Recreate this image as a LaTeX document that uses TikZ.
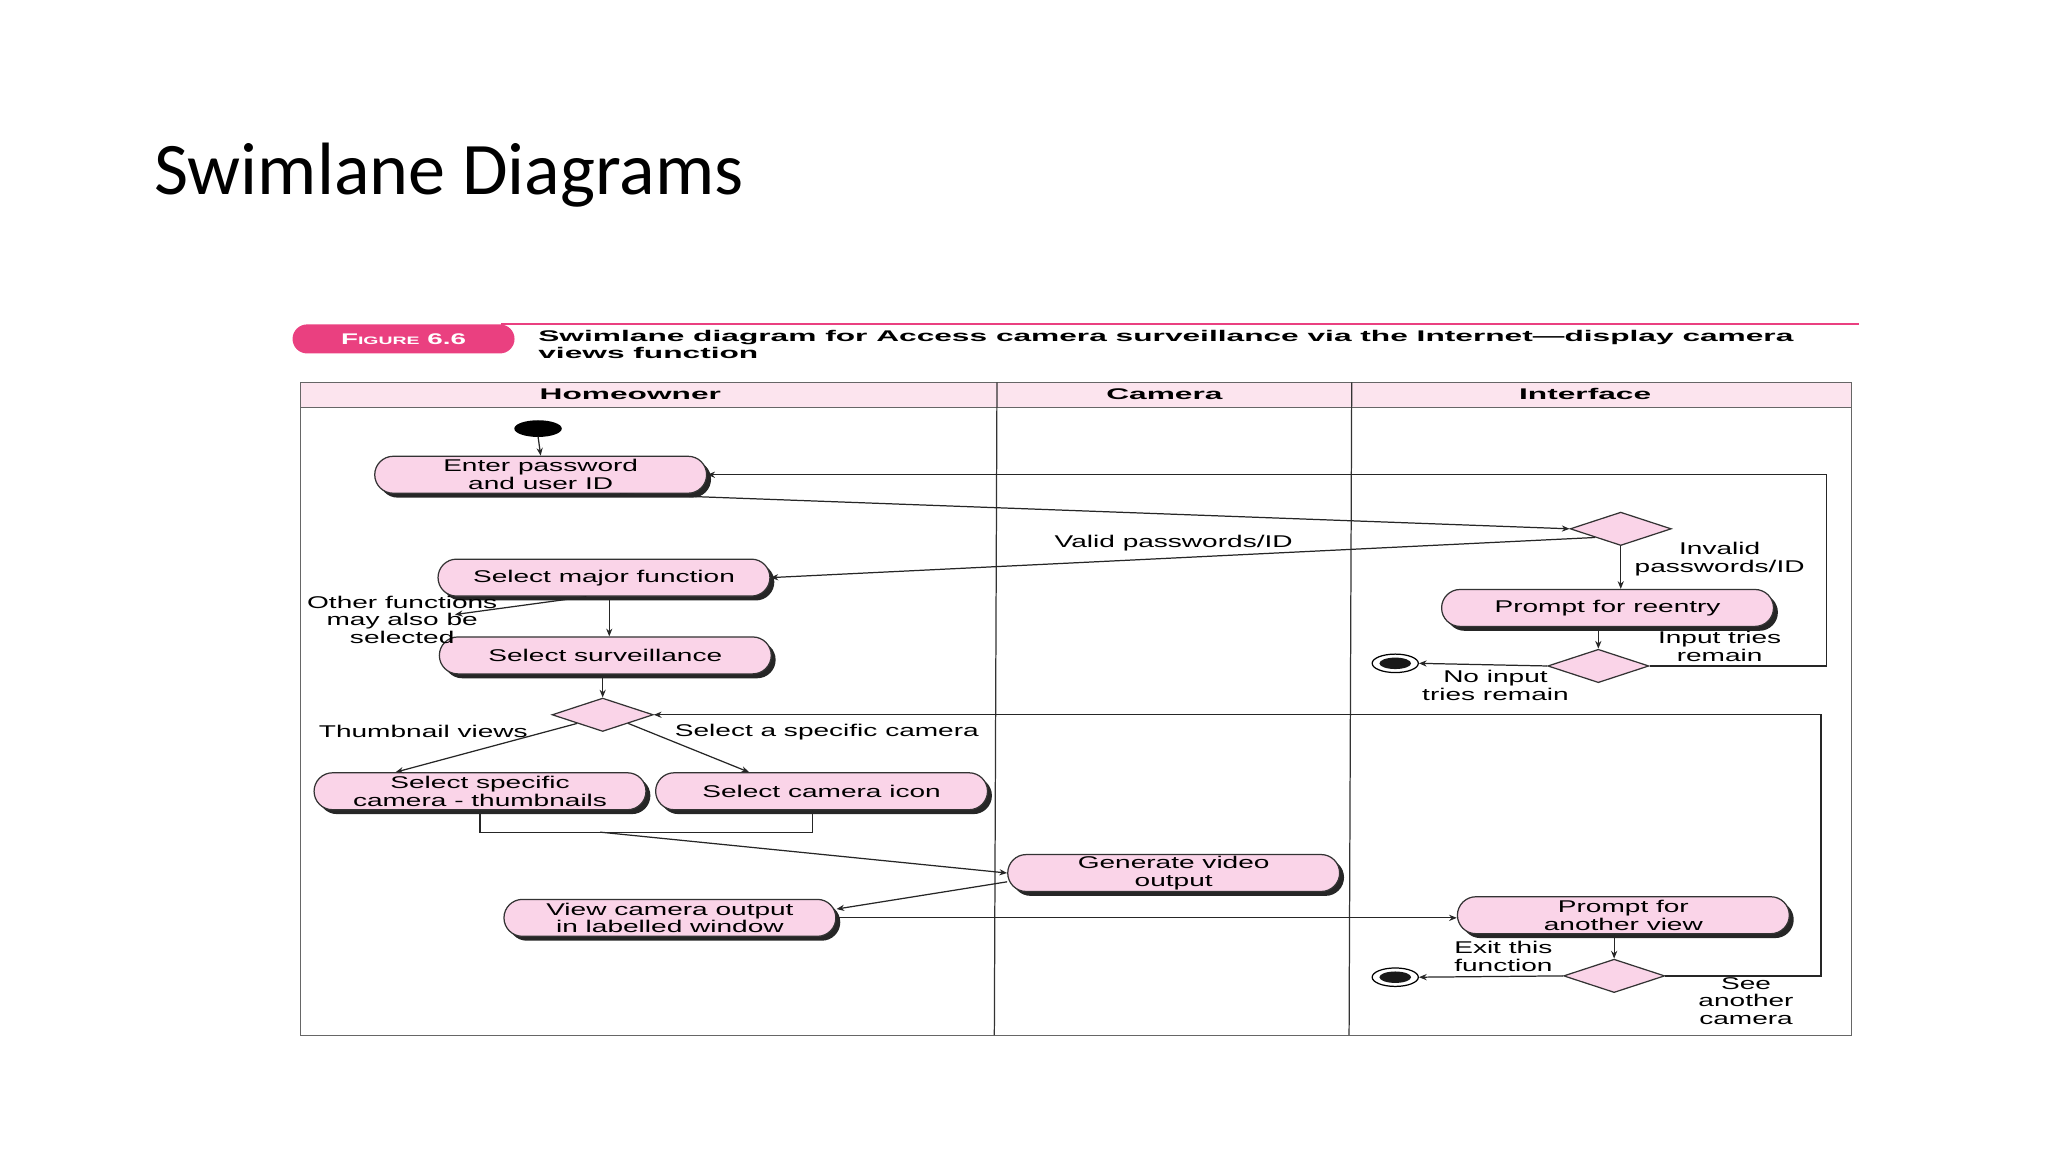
\documentclass[tikz,border=0pt]{standalone}
\usepackage{fontspec}
\setmainfont{Liberation Sans}
\newfontfamily\titlefont{Carlito}
\usetikzlibrary{shapes.geometric,shadows,arrows.meta}
\definecolor{pinkfill}{RGB}{250,212,232}
\definecolor{headpink}{RGB}{252,228,238}
\definecolor{magline}{RGB}{234,64,128}
\newcommand\wt[1]{\scalebox{1.65}[1]{#1}}
\newcommand\wb[1]{\scalebox{2.05}[1]{\bfseries #1}}
\begin{document}
\begin{tikzpicture}[x=0.03cm,y=-0.03cm,
  act/.style={draw=black!80,line width=0.8pt,fill=pinkfill,rounded corners=0.42cm,minimum width=7.55cm,minimum height=0.84cm,inner sep=0pt,align=center,font=\fontsize{11}{11.5}\selectfont,
    general shadow={shadow xshift=0.1cm,shadow yshift=-0.1cm,fill=black!85,rounded corners=0.42cm}},
  dec/.style={diamond,draw=black!80,line width=0.8pt,fill=pinkfill,minimum width=2.3cm,minimum height=0.76cm,inner sep=0pt,aspect=3},
  fin/.style={ellipse,draw=black,line width=0.8pt,fill=white,minimum width=1.05cm,minimum height=0.42cm,inner sep=0pt,path picture={\fill[black!90] (path picture bounding box.center) ellipse (0.36cm and 0.13cm);}},
  lbl/.style={font=\fontsize{11}{11.5}\selectfont,align=center,inner sep=1pt},
  ln/.style={line width=0.8pt,black!85},
  ar/.style={ln,-{Stealth[length=5pt,width=4pt]}}]
\useasboundingbox (0,0) rectangle (1553,873.56);
% title
\node[anchor=west,font=\titlefont\fontsize{48}{50}\selectfont] (title) at (113,133) {Swimlane Diagrams};
% figure header
\draw[magline,line width=1.2pt] (380,246) -- (1410,246);
\node[fill=magline,rounded corners=0.33cm,minimum width=5.05cm,minimum height=0.66cm,text=white,font=\fontsize{10}{10}\selectfont] (pill) at (306,257) {\scalebox{1.8}[1]{\bfseries F{\scriptsize IGURE} 6.6}};
\node[anchor=north west,align=left,font=\fontsize{10}{11}\selectfont,inner sep=0pt] (cap) at (408,250) {\wb{Swimlane diagram for Access camera surveillance via the Internet---display camera}\\\wb{views function}};
% table
\fill[headpink] (228,290) rectangle (1404,309);
\draw[black!60,line width=0.9pt] (228,290) rectangle (1404,785);
\draw[black!60,line width=0.9pt] (228,309) -- (1404,309);
\draw[black!80,line width=0.8pt] (756,290) -- (754,785);
\draw[black!80,line width=0.8pt] (1025,290) -- (1023,785);
\node[font=\fontsize{10}{10}\selectfont] (h1) at (478,299) {\wb{Homeowner}};
\node[font=\fontsize{10}{10}\selectfont] (h2) at (883,299) {\wb{Camera}};
\node[font=\fontsize{10}{10}\selectfont] (h3) at (1202,299) {\wb{Interface}};
% nodes
\fill[black] (408,325) ellipse (0.54cm and 0.19cm);
\coordinate (start) at (408,331);
\node[act] (enter) at (410,360) {\wt{Enter password}\\\wt{and user ID}};
\node[act] (major) at (458,438) {\wt{Select major function}};
\node[act] (surv) at (459,497) {\wt{Select surveillance}};
\node[dec] (d1) at (457,542) {};
\node[act] (thumb) at (364,600) {\wt{Select specific}\\\wt{camera - thumbnails}};
\node[act] (icon) at (623,600) {\wt{Select camera icon}};
\node[act] (gen) at (890,662) {\wt{Generate video}\\\wt{output}};
\node[act] (view) at (508,696) {\wt{View camera output}\\\wt{in labelled window}};
\node[dec] (val) at (1229,401) {};
\node[act] (reentry) at (1219,461) {\wt{Prompt for reentry}};
\node[dec] (d2) at (1212,505) {};
\node[fin] (end1) at (1058,503) {};
\node[act] (another) at (1231,694) {\wt{Prompt for}\\\wt{another view}};
\node[dec] (d3) at (1224,740) {};
\node[fin] (end2) at (1058,741) {};
\coordinate (ofend) at (345,466);
\coordinate (join) at (455,631);
% edges
\draw[ar] (start) -- (enter.north);
\draw[ar] ([xshift=1.8cm]enter.south) -- (val.west);
\draw[ar] (val.south west) -- (major.east);
\draw[ar] (val.south) -- (val.south |- reentry.north);
\draw[ar] (d2.north |- reentry.south) -- (d2.north);
\draw[ar] (d2.east) -- ++(4.02cm,0) |- (enter.east);
\draw[ar] (d2.west) -- (end1.east);
\draw[ar] ([xshift=0.12cm]major.south) -- ([xshift=0.12cm]major.south |- surv.north);
\draw[ar] ([xshift=-0.4cm]major.south) -- (ofend);
\draw[ar] (d1.north |- surv.south) -- (d1.north);
\draw[ar] (d1.south west) -- ([xshift=-1.92cm]thumb.north);
\draw[ar] (d1.south east) -- ([xshift=-1.65cm]icon.north);
\draw[ln] (thumb.south) |- (join) -| ([xshift=-0.2cm]icon.south);
\draw[ar] (join) -- (gen.west);
\draw[ar] ([yshift=-0.2cm]gen.west) -- ([yshift=0.2cm]view.east);
\draw[ar] (view.east) -- (view.east -| another.west);
\draw[ar] (d3.north |- another.south) -- (d3.north);
\draw[ar] (d3.west) -- (end2.east);
\draw[ar] (d3.east) -- ++(3.54cm,0) |- (d1.east);
% labels
\node[lbl] (lvalid) at (890,412) {\wt{Valid passwords/ID}};
\node[lbl] (linv) at (1304,424) {\wt{Invalid}\\\wt{passwords/ID}};
\node[lbl] (ltries) at (1304,490) {\wt{Input tries}\\\wt{remain}};
\node[lbl] (lnoin) at (1134,520) {\wt{No input}\\\wt{tries remain}};
\node[lbl] (lother) at (305,470) {\wt{Other functions}\\\wt{may also be}\\\wt{selected}};
\node[lbl] (lthumb) at (321,555) {\wt{Thumbnail views}};
\node[lbl] (lspec) at (627,555) {\wt{Select a specific camera}};
\node[lbl] (lexit) at (1140,725) {\wt{Exit this}\\\wt{function}};
\node[lbl] (lsee) at (1324,759) {\wt{See}\\\wt{another}\\\wt{camera}};
\end{tikzpicture}
\end{document}
